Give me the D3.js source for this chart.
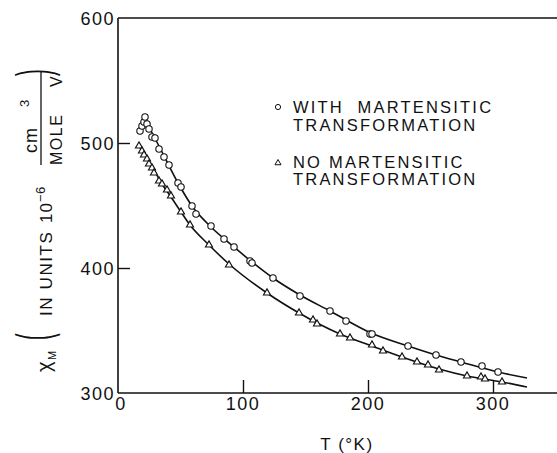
<!DOCTYPE html>
<html>
<head>
<meta charset="utf-8">
<script src="https://cdn.jsdelivr.net/npm/d3@7"></script>
<style>
  html, body { margin: 0; padding: 0; background: #fff; }
  svg { display: block; }
  text { font-family: "Liberation Sans", Arial, Helvetica, sans-serif; fill: #111; white-space: pre; }
</style>
</head>
<body>
<svg id="chart" width="557" height="453"></svg>
<script>
// ---- data (T in K, chi_M in 1e-6 cm^3 / mole V) ----
const withT   = [17.6, 19.2, 20.8, 21.6, 23.2, 24.8, 27.2, 29.6, 32.8, 36.8, 40.8, 48, 50.4, 59.2, 62.4, 74.4, 84.8, 92.8, 105.6, 107.2, 124, 145.6, 169.6, 182.4, 201.6, 203.2, 232, 254.4, 274.4, 291.2, 304];
const withChi = [509.6, 513.6, 516.8, 520.8, 515.2, 511.2, 504.8, 504, 495.2, 488.8, 482.4, 468, 464.8, 449.6, 443.2, 433.6, 423.2, 416.8, 405.6, 404, 392, 377.6, 365.6, 357.6, 347.2, 347.2, 337.6, 330.4, 324.8, 321.6, 316.8];

const noT   = [16.8, 19.2, 20.8, 23.2, 24.8, 27.2, 28.8, 32.8, 35.2, 39.2, 42.4, 50.4, 57.6, 72.8, 88.8, 119.2, 144.8, 156, 159.2, 177.6, 185.6, 203.2, 212, 227.2, 239.2, 248, 256.8, 279.2, 290.4, 293.6, 307.2];
const noChi = [497.6, 493.6, 490.4, 487.2, 483.2, 480, 476, 469.6, 467.2, 462.4, 457.6, 444.8, 434.4, 418.4, 402.4, 380, 364, 358.4, 355.2, 347.2, 344, 338.4, 333.6, 328.8, 324.8, 322.4, 318.4, 313.6, 312.8, 311.2, 308.8];

// smooth fitted curves as drawn in the figure
const withFitT   = [24, 33.6, 48, 59.2, 74.4, 92.8, 107.2, 124, 145.6, 169.6, 202.4, 232, 254.4, 274.4, 304, 327.2];
const withFitChi = [514.4, 496, 468, 449.6, 432.8, 416.8, 404.8, 392, 378.4, 365.6, 348, 337.6, 330.4, 324.8, 316.8, 312];
const noFitT   = [16.8, 25.6, 35.2, 42.4, 50.4, 57.6, 72.8, 88.8, 119.2, 144.8, 177.6, 203.2, 227.2, 256.8, 279.2, 307.2, 327.2];
const noFitChi = [497.6, 484, 467.2, 456.8, 444.8, 434.4, 418.4, 403.2, 380, 364, 347.2, 337.6, 328.8, 319.2, 313.6, 308.8, 304.8];

const xTicks = [0, 100, 200, 300];
const yTicks = [300, 400, 500, 600];
const legendLabels = [["WITH  MARTENSITIC", "TRANSFORMATION"], ["NO MARTENSITIC", "TRANSFORMATION"]];
const xTitle = "T (°K)";

// ---- layout ----
const svg = d3.select("#chart");
const x = d3.scaleLinear().domain([0, 351.2]).range([118, 557]);
const y = d3.scaleLinear().domain([300, 600]).range([393, 18]);
const ink = "#111";

// frame (left, top, bottom; right side cut off)
const frame = svg.append("g").attr("stroke", ink).attr("stroke-width", 1.6).attr("fill", "none");
frame.append("line").attr("x1", x(0)).attr("x2", x(0)).attr("y1", y(600)).attr("y2", y(300));
frame.append("line").attr("x1", x(0)).attr("x2", x(351.2)).attr("y1", y(600)).attr("y2", y(600));
frame.append("line").attr("x1", x(0)).attr("x2", x(351.2)).attr("y1", y(300)).attr("y2", y(300));

// x axis (ticks pointing inward)
const xAxis = d3.axisTop(x).tickValues(xTicks).tickSize(13).tickFormat("");
const gx = svg.append("g").attr("transform", `translate(0,${y(300)})`).call(xAxis);
gx.select(".domain").remove();
gx.selectAll(".tick line").attr("stroke", ink).attr("stroke-width", 1.4)
  .filter(d => d === 0).remove();
svg.append("g").selectAll("text").data(xTicks).join("text")
  .attr("x", d => x(d) + (d === 0 ? 3 : 0))
  .attr("y", y(300) + 17)
  .attr("text-anchor", "middle")
  .attr("font-size", 18).attr("letter-spacing", 1.5)
  .text(d => d);

// y axis (ticks pointing inward)
const yAxis = d3.axisRight(y).tickValues(yTicks).tickSize(12).tickFormat("");
const gy = svg.append("g").attr("transform", `translate(${x(0)},0)`).call(yAxis);
gy.select(".domain").remove();
gy.selectAll(".tick line").attr("stroke", ink).attr("stroke-width", 1.4)
  .filter(d => d === 300 || d === 600).remove();
svg.append("g").selectAll("text").data(yTicks).join("text")
  .attr("x", x(0) - 3)
  .attr("y", d => y(d) + 7)
  .attr("text-anchor", "end")
  .attr("font-size", 18).attr("letter-spacing", 1.5)
  .text(d => d);

// x title
svg.append("text").attr("x", 347).attr("y", 450).attr("text-anchor", "middle")
  .attr("font-size", 17).attr("letter-spacing", 1.5).text(xTitle);

// y title (rotated group: u along text, v = screen x)
const yt = svg.append("g").attr("transform", "rotate(-90)");
function rt(u, v, str, size, extra) {
  const t = yt.append("text").attr("x", u).attr("y", v).attr("font-size", size).text(str);
  if (extra) extra(t);
  return t;
}
rt(-372, 51, "χ", 20);
rt(-360, 56, "M", 11, t => t.attr("letter-spacing", 0.5));
yt.append("text").attr("font-size", 20).attr("font-weight", 300).text("(")
  .attr("transform", "translate(-340,50) scale(1,2.4)");
rt(-316, 52, "IN UNITS", 17, t => t.attr("letter-spacing", 1.6));
rt(-223, 52, "10", 17, t => t.attr("letter-spacing", 1));
rt(-202, 45, "−6", 13, t => t.attr("letter-spacing", 0.5));
yt.append("line").attr("x1", -165).attr("x2", -72).attr("y1", 41).attr("y2", 41)
  .attr("stroke", ink).attr("stroke-width", 1.3);
rt(-153, 37, "cm", 18, t => t.attr("letter-spacing", 1));
rt(-107, 29, "3", 13);
rt(-165, 62, "MOLE", 16, t => t.attr("letter-spacing", 1.5));
rt(-87, 62, "V", 16);
yt.append("text").attr("font-size", 20).attr("font-weight", 300).text(")")
  .attr("transform", "translate(-76,50) scale(1,2.4)");

// curves
const line = d3.line().x(d => x(d[0])).y(d => y(d[1])).curve(d3.curveMonotoneX);
svg.append("path").datum(d3.zip(withFitT, withFitChi)).attr("d", line)
  .attr("fill", "none").attr("stroke", ink).attr("stroke-width", 1.6);
svg.append("path").datum(d3.zip(noFitT, noFitChi)).attr("d", line)
  .attr("fill", "none").attr("stroke", ink).attr("stroke-width", 1.6);

// markers
svg.append("g").selectAll("circle").data(d3.zip(withT, withChi)).join("circle")
  .attr("cx", d => x(d[0])).attr("cy", d => y(d[1])).attr("r", 3.2)
  .attr("fill", "#fff").attr("stroke", ink).attr("stroke-width", 1.1);
const tri = d3.symbol().type(d3.symbolTriangle).size(22);
svg.append("g").selectAll("path").data(d3.zip(noT, noChi)).join("path")
  .attr("d", tri).attr("transform", d => `translate(${x(d[0])},${y(d[1])})`)
  .attr("fill", "#fff").attr("stroke", ink).attr("stroke-width", 1.1);

// legend
const lg = svg.append("g");
lg.append("circle").attr("cx", 278).attr("cy", 107).attr("r", 2.6)
  .attr("fill", "#fff").attr("stroke", ink).attr("stroke-width", 1);
lg.append("path").attr("d", d3.symbol().type(d3.symbolTriangle).size(16)())
  .attr("transform", "translate(278,163)")
  .attr("fill", "#fff").attr("stroke", ink).attr("stroke-width", 1);
const legY = [[113, 131], [168, 185]];
legendLabels.forEach((lines, i) => {
  lines.forEach((s, j) => {
    lg.append("text").attr("x", 293).attr("y", legY[i][j])
      .attr("font-size", 16.5).attr("letter-spacing", 2.2).text(s);
  });
});
</script>
</body>
</html>
